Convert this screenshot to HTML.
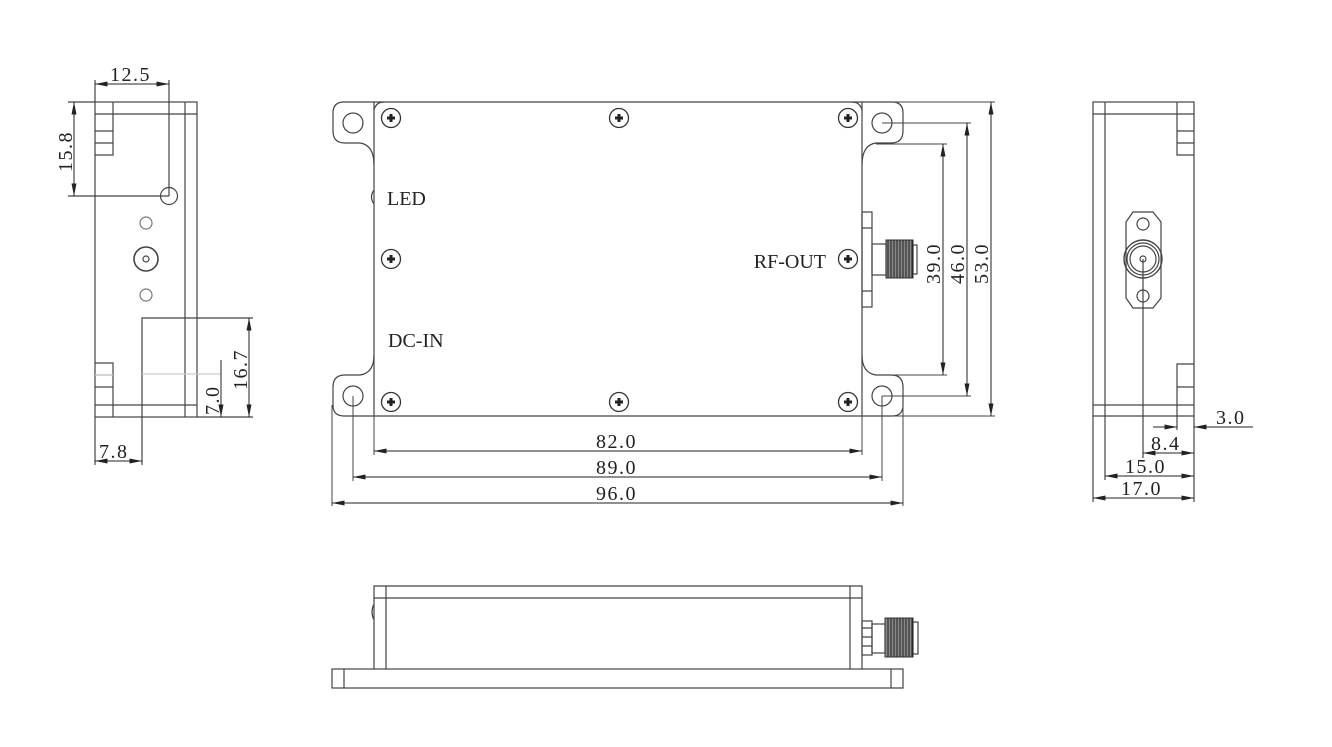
<!DOCTYPE html>
<html><head><meta charset="utf-8"><style>
html,body{margin:0;padding:0;background:#fff}
svg{display:block}
text{font-family:"Liberation Serif",serif;font-size:20px;fill:#222;letter-spacing:1.5px}
text.l{letter-spacing:0}
</style></head><body>
<svg width="1332" height="747" viewBox="0 0 1332 747" xmlns="http://www.w3.org/2000/svg">
<defs>
<marker id="a" viewBox="0 0 10 4" refX="10" refY="2" markerWidth="14" markerHeight="5" markerUnits="userSpaceOnUse" orient="auto-start-reverse"><path d="M0,0 L10,2 L0,4z" fill="#222"/></marker>
<g id="scr"><circle r="9.5" fill="none" stroke="#333" stroke-width="1.3"/><path d="M-4,0H4M0,-4V4" stroke="#222" stroke-width="3"/></g>
</defs>
<g fill="none" stroke="#444" stroke-width="1.2">
<rect x="95" y="102" width="102" height="315"/>
<line x1="95" y1="114" x2="197" y2="114"/><line x1="95" y1="405" x2="197" y2="405"/>
<line x1="185" y1="102" x2="185" y2="417"/>
<path d="M113,102V155H95M95,131H113M95,143H113"/>
<path d="M113,417V363H95M95,387H113"/>
<line x1="95" y1="375" x2="113" y2="375" stroke="#bbb"/>
<circle cx="169" cy="196" r="8.5"/>
<circle cx="146" cy="223" r="6" stroke="#777"/>
<circle cx="146" cy="259" r="12" stroke-width="1.6"/><circle cx="146" cy="259" r="3"/>
<circle cx="146" cy="295" r="6" stroke="#777"/>
<path d="M142,465V318H253"/>
<line x1="142" y1="374" x2="221" y2="374" stroke="#ccc"/>
<path d="M197,417H253"/>
<line x1="95" y1="80" x2="95" y2="102"/><line x1="169" y1="80" x2="169" y2="196"/>
<line x1="68" y1="102" x2="95" y2="102"/><line x1="68" y1="196" x2="169" y2="196"/>
<line x1="95" y1="417" x2="95" y2="465"/>
</g>
<g stroke="#222" stroke-width="1">
<line x1="95" y1="84" x2="169" y2="84" marker-start="url(#a)" marker-end="url(#a)"/>
<line x1="74" y1="102" x2="74" y2="196" marker-start="url(#a)" marker-end="url(#a)"/>
<line x1="249" y1="318" x2="249" y2="417" marker-start="url(#a)" marker-end="url(#a)"/>
<line x1="221" y1="360" x2="221" y2="417" marker-end="url(#a)"/>
<line x1="95" y1="461" x2="142" y2="461" marker-start="url(#a)" marker-end="url(#a)"/>
</g>
<text x="110" y="81">12.5</text>
<text transform="translate(72,172) rotate(-90)">15.8</text>
<text transform="translate(247,390) rotate(-90)">16.7</text>
<text transform="translate(219,415) rotate(-90)">7.0</text>
<text x="99" y="458">7.8</text>

<g fill="none" stroke="#444" stroke-width="1.2">
<path d="M374,102H862V416H374Z"/>
<path d="M374,110 Q376,102 384,102 M862,110 Q860,102 852,102"/>
<path d="M374,102H344Q333,102 333,113V131Q333,143 345,143H360Q374,145 374,165"/>
<path d="M374,416H344Q333,416 333,405V387Q333,375 345,375H360Q374,373 374,355"/>
<path d="M862,102H892Q903,102 903,113V131Q903,143 891,143H876Q862,145 862,165"/>
<path d="M862,416H892Q903,416 903,405V387Q903,375 891,375H876Q862,373 862,355"/>
<circle cx="353" cy="123" r="10"/><circle cx="353" cy="396" r="10"/>
<circle cx="882" cy="123" r="10"/><circle cx="882" cy="396" r="10"/>
<path d="M374,190 Q369,197 374,204"/>
<rect x="862" y="212" width="10" height="95"/>
<path d="M862,228H872M862,291H872"/>
<rect x="872" y="244" width="14" height="31"/>
<rect x="913" y="245" width="4" height="29"/>
</g>
<g stroke="#333" stroke-width="1">
<rect x="886" y="240" width="27" height="38" fill="#888"/>
<path d="M888,240V278M891,240V278M894,240V278M897,240V278M900,240V278M903,240V278M906,240V278M909,240V278M912,240V278" stroke="#222"/>
</g>
<use href="#scr" x="391" y="118"/><use href="#scr" x="619" y="118"/><use href="#scr" x="848" y="118"/>
<use href="#scr" x="391" y="259"/><use href="#scr" x="848" y="259"/>
<use href="#scr" x="391" y="402"/><use href="#scr" x="619" y="402"/><use href="#scr" x="848" y="402"/>
<text class="l" x="387" y="205">LED</text>
<text class="l" x="388" y="347">DC-IN</text>
<text class="l" x="826" y="268" text-anchor="end">RF-OUT</text>
<g fill="none" stroke="#444" stroke-width="1">
<line x1="862" y1="102" x2="995" y2="102"/><line x1="862" y1="416" x2="995" y2="416"/>
<line x1="882" y1="123" x2="971" y2="123"/><line x1="882" y1="396" x2="971" y2="396"/>
<line x1="876" y1="144" x2="947" y2="144"/><line x1="876" y1="375" x2="947" y2="375"/>
<line x1="374" y1="416" x2="374" y2="455"/><line x1="862" y1="416" x2="862" y2="455"/>
<line x1="353" y1="396" x2="353" y2="481"/><line x1="882" y1="396" x2="882" y2="481"/>
<line x1="332" y1="405" x2="332" y2="506"/><line x1="903" y1="405" x2="903" y2="506"/>
</g>
<g stroke="#222" stroke-width="1">
<line x1="943" y1="144" x2="943" y2="375" marker-start="url(#a)" marker-end="url(#a)"/>
<line x1="967" y1="123" x2="967" y2="396" marker-start="url(#a)" marker-end="url(#a)"/>
<line x1="991" y1="102" x2="991" y2="416" marker-start="url(#a)" marker-end="url(#a)"/>
<line x1="374" y1="451" x2="862" y2="451" marker-start="url(#a)" marker-end="url(#a)"/>
<line x1="353" y1="477" x2="882" y2="477" marker-start="url(#a)" marker-end="url(#a)"/>
<line x1="332" y1="503" x2="903" y2="503" marker-start="url(#a)" marker-end="url(#a)"/>
</g>
<text transform="translate(940,284) rotate(-90)">39.0</text>
<text transform="translate(964,284) rotate(-90)">46.0</text>
<text transform="translate(988,284) rotate(-90)">53.0</text>
<text x="596" y="448">82.0</text>
<text x="596" y="474">89.0</text>
<text x="596" y="500">96.0</text>

<g fill="none" stroke="#444" stroke-width="1.2">
<rect x="1093" y="102" width="101" height="314"/>
<line x1="1105" y1="102" x2="1105" y2="416"/>
<line x1="1093" y1="114" x2="1194" y2="114"/><line x1="1093" y1="405" x2="1194" y2="405"/>
<path d="M1177,102V155H1194M1177,131H1194M1177,143H1194"/>
<path d="M1177,416V364H1194M1177,387H1194"/>
<path d="M1133,212H1153L1161,222V298L1153,308H1133L1126,298V222Z"/>
<circle cx="1143" cy="224" r="6"/><circle cx="1143" cy="296" r="6"/>
<circle cx="1143" cy="259" r="19" stroke-width="1.4"/><circle cx="1143" cy="259" r="16"/><circle cx="1143" cy="259" r="13"/><circle cx="1143" cy="259" r="3"/>
<line x1="1143" y1="259" x2="1143" y2="458"/>
<line x1="1177" y1="416" x2="1177" y2="430"/>
<line x1="1194" y1="416" x2="1194" y2="502"/>
<line x1="1105" y1="416" x2="1105" y2="480"/>
<line x1="1093" y1="416" x2="1093" y2="502"/>
</g>
<g stroke="#222" stroke-width="1">
<line x1="1153" y1="427" x2="1177" y2="427" marker-end="url(#a)"/>
<line x1="1253" y1="427" x2="1194" y2="427" marker-end="url(#a)"/>
<line x1="1143" y1="453" x2="1194" y2="453" marker-start="url(#a)" marker-end="url(#a)"/>
<line x1="1105" y1="476" x2="1194" y2="476" marker-start="url(#a)" marker-end="url(#a)"/>
<line x1="1093" y1="498" x2="1194" y2="498" marker-start="url(#a)" marker-end="url(#a)"/>
</g>
<text x="1216" y="424">3.0</text>
<text x="1151" y="450">8.4</text>
<text x="1125" y="473">15.0</text>
<text x="1121" y="495">17.0</text>

<g fill="none" stroke="#444" stroke-width="1.2">
<path d="M374,669V586H862V669"/>
<line x1="374" y1="598" x2="862" y2="598"/>
<line x1="386" y1="586" x2="386" y2="669"/><line x1="850" y1="586" x2="850" y2="669"/>
<rect x="332" y="669" width="571" height="19"/>
<line x1="344" y1="669" x2="344" y2="688"/><line x1="891" y1="669" x2="891" y2="688"/>
<path d="M374,604 Q370,612 374,620"/>
<rect x="862" y="621" width="10" height="34"/>
<path d="M862,628H872M862,637H872M862,646H872"/>
<rect x="872" y="624" width="13" height="29"/>
<rect x="913" y="622" width="5" height="32"/>
</g>
<g stroke="#333" stroke-width="1">
<rect x="885" y="618" width="28" height="39" fill="#888"/>
<path d="M888,618V657M891,618V657M894,618V657M897,618V657M900,618V657M903,618V657M906,618V657M909,618V657M912,618V657" stroke="#222"/>
</g>
</svg>
</body></html>
